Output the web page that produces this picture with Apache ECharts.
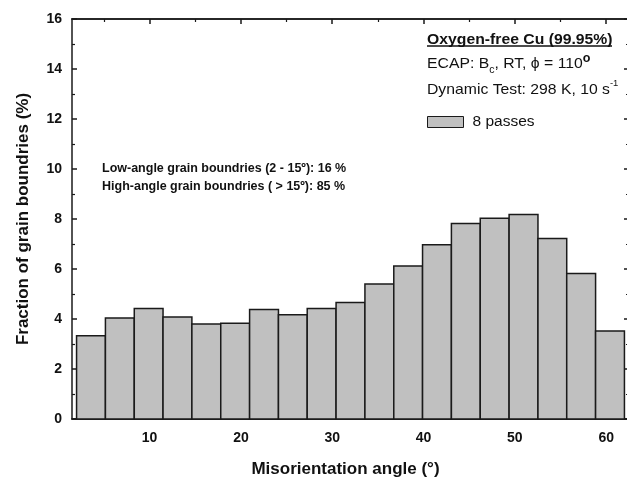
<!DOCTYPE html>
<html><head><meta charset="utf-8">
<script src="https://cdn.jsdelivr.net/npm/echarts@6/dist/echarts.min.js"></script>
<style>html,body{margin:0;padding:0;background:#fff}#c{width:627px;height:483px}</style>
</head><body><div id="c"></div>
<script>
// Bin edges (degrees)
const binEdges = [2, 5.16, 8.32, 11.47, 14.63, 17.79, 20.95, 24.11, 27.26, 30.42, 33.58, 36.74, 39.89, 43.05, 46.21, 49.37, 52.53, 55.68, 58.84, 62];
// Fraction of grain boundaries (%) per bin
const fractions = [3.33, 4.04, 4.42, 4.08, 3.80, 3.83, 4.38, 4.17, 4.42, 4.66, 5.40, 6.12, 6.97, 7.82, 8.03, 8.18, 7.22, 5.82, 3.52];
const xMajorTicks = [10, 20, 30, 40, 50, 60];
const xMinorTicks = [5, 15, 25, 35, 45, 55];
const seriesName = '8 passes';

const font = '"Liberation Sans", Arial, sans-serif';
const dark = '#1a1a1a';
const barData = fractions.map((v, i) => [binEdges[i], binEdges[i + 1], v]);

const gridL = 72, gridT = 19, gridW = 557, gridH = 400;
const xMin = 1.5, xMax = 62.5;

function xAxisBase(pos, opts) {
  return Object.assign({
    type: 'value', position: pos, min: xMin, max: xMax,
    axisLine: { show: true, onZero: false, lineStyle: { color: dark, width: 1.5 } },
    splitLine: { show: false },
    axisLabel: { show: false },
    axisTick: { show: false }
  }, opts);
}

const chart = echarts.init(document.getElementById('c'), null, { renderer: 'canvas' });
chart.setOption({
  backgroundColor: '#ffffff',
  animation: false,
  textStyle: { fontFamily: font },
  grid: { left: gridL, top: gridT, width: gridW, height: gridH, containLabel: false, outerBoundsMode: 'none' },
  legend: {
    show: true, left: 422, top: 109, icon: 'rect', itemWidth: 36, itemHeight: 11, itemGap: 8,
    data: [seriesName],
    itemStyle: { color: '#c0c0c0', borderColor: dark, borderWidth: 1 },
    textStyle: { fontFamily: font, fontSize: 15.5, color: '#111', padding: [0, 0, 0, 4] }
  },
  xAxis: [
    xAxisBase('bottom', {
      name: 'Misorientation angle (°)', nameLocation: 'middle', nameGap: 42,
      nameTextStyle: { fontFamily: font, fontSize: 17, fontWeight: 'bold', color: '#111', padding: [0, 10, 0, 0] },
      axisLabel: { show: true, customValues: xMajorTicks, margin: 12, fontFamily: font, fontSize: 14, fontWeight: 'bold', color: '#111' },
      axisTick: { show: true, inside: true, length: 5, customValues: xMajorTicks, lineStyle: { color: dark, width: 1.5 } }
    }),
    xAxisBase('bottom', {
      axisTick: { show: true, inside: true, length: 3, customValues: xMinorTicks, lineStyle: { color: dark, width: 1.2 } }
    }),
    xAxisBase('top', {
      axisTick: { show: true, inside: true, length: 5, customValues: xMajorTicks, lineStyle: { color: dark, width: 1.5 } }
    }),
    xAxisBase('top', {
      axisTick: { show: true, inside: true, length: 3, customValues: xMinorTicks, lineStyle: { color: dark, width: 1.2 } }
    })
  ],
  yAxis: [
    {
      type: 'value', position: 'left', min: 0, max: 16, interval: 2,
      name: 'Fraction of grain boundries (%)', nameLocation: 'middle', nameGap: 40, nameRotate: 90,
      nameTextStyle: { fontFamily: font, fontSize: 17, fontWeight: 'bold', color: '#111' },
      axisLine: { show: true, lineStyle: { color: dark, width: 1.5 } },
      axisTick: { show: true, inside: true, length: 5, lineStyle: { color: dark, width: 1.5 } },
      minorTick: { show: true, splitNumber: 2, length: 3, lineStyle: { color: dark, width: 1.2 } },
      splitLine: { show: false }, minorSplitLine: { show: false },
      axisLabel: { margin: 10, fontFamily: font, fontSize: 14, fontWeight: 'bold', color: '#111' }
    },
    {
      type: 'value', position: 'right', min: 0, max: 16, interval: 2,
      axisLine: { show: true, lineStyle: { color: dark, width: 1.5 } },
      axisTick: { show: true, inside: true, length: 5, lineStyle: { color: dark, width: 1.5 } },
      minorTick: { show: true, splitNumber: 2, length: 3, lineStyle: { color: dark, width: 1.2 } },
      splitLine: { show: false }, axisLabel: { show: false }
    }
  ],
  series: [{
    name: seriesName,
    type: 'custom',
    xAxisIndex: 0, yAxisIndex: 0,
    data: barData,
    encode: { x: [0, 1], y: 2 },
    itemStyle: { color: '#c0c0c0', borderColor: dark, borderWidth: 1.5 },
    renderItem: function (params, api) {
      const p0 = api.coord([api.value(0), api.value(2)]);
      const p1 = api.coord([api.value(1), 0]);
      return {
        type: 'rect',
        shape: { x: p0[0], y: p0[1], width: p1[0] - p0[0], height: p1[1] - p0[1] },
        style: { fill: '#c0c0c0', stroke: dark, lineWidth: 1.5 }
      };
    }
  }],
  graphic: [
    { type: 'text', x: 427, y: 32, scaleX: 1.05, style: { text: 'Oxygen-free Cu (99.95%)', font: 'bold 15px ' + font, fill: '#111' } },
    { type: 'line', shape: { x1: 427, y1: 46, x2: 612, y2: 46 }, style: { stroke: '#111', lineWidth: 1.3 } },
    { type: 'text', x: 427, y: 53, scaleX: 1.05, style: {
        text: '{n|ECAP: B}{sub|c}{n|, RT, ϕ = 110}{sup|o}',
        rich: {
          n: { font: '15px ' + font, fill: '#111', lineHeight: 22 },
          sub: { font: '10px ' + font, fill: '#111', lineHeight: 12, verticalAlign: 'bottom' },
          sup: { font: 'bold 12px ' + font, fill: '#111', lineHeight: 12, verticalAlign: 'top' }
        } } },
    { type: 'text', x: 427, y: 79, scaleX: 1.05, style: {
        text: '{n|Dynamic Test: 298 K, 10 s}{sup|-1}',
        rich: {
          n: { font: '15px ' + font, fill: '#111', lineHeight: 22 },
          sup: { font: '9px ' + font, fill: '#111', lineHeight: 12, verticalAlign: 'top' }
        } } },
    { type: 'text', x: 102, y: 162, style: { text: 'Low-angle grain boundries (2 - 15º): 16 %', font: 'bold 12.5px ' + font, fill: '#111' } },
    { type: 'text', x: 102, y: 180, style: { text: 'High-angle grain boundries ( > 15º): 85 %', font: 'bold 12.5px ' + font, fill: '#111' } }
  ]
});
</script>
</body></html>
